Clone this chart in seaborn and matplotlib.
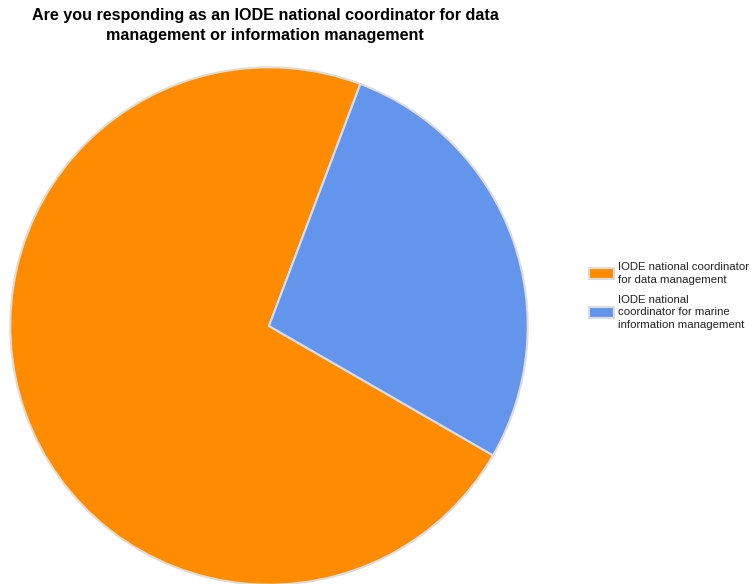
import matplotlib
matplotlib.use("Agg")
import matplotlib.pyplot as plt
import seaborn as sns

categories = ["IODE national coordinator\nfor data management",
              "IODE national\ncoordinator for marine\ninformation management"]
values = [21, 8]
colors = ["#FF8C00", "#6495ED"]
title = "Are you responding as an IODE national coordinator for data\nmanagement or information management"

sns.set_theme(style="white")
plt.rcParams['font.family'] = ['Liberation Sans', 'DejaVu Sans']

fig = plt.figure(figsize=(7.52, 5.84), dpi=100)
ax = fig.add_axes([9/752, -2/584, 520/752, 520/584])
wedges, _ = ax.pie(values, colors=colors, startangle=-30, counterclock=False,
                   wedgeprops=dict(edgecolor="#dddddd", linewidth=1.5))
ax.set_xlim(-1.005, 1.005)
ax.set_ylim(-1.005, 1.005)
ax.set_aspect("equal")
ax.axis("off")

fig.text(265/752, 1 - 8/584, title, ha="center", va="top", fontsize=11.6,
         fontweight="bold", color="#000000", linespacing=1.45)

leg = fig.legend(wedges, categories, loc="upper left",
                 bbox_to_anchor=(579/752, 1 - 252/584), frameon=False,
                 fontsize=8.2, handlelength=2.2, handleheight=1.2,
                 handletextpad=0.35, labelspacing=0.9, labelcolor="#222222")
for t in leg.get_texts():
    t.set_linespacing(1.3)

fig.savefig("out.png", dpi=100, facecolor="white")
